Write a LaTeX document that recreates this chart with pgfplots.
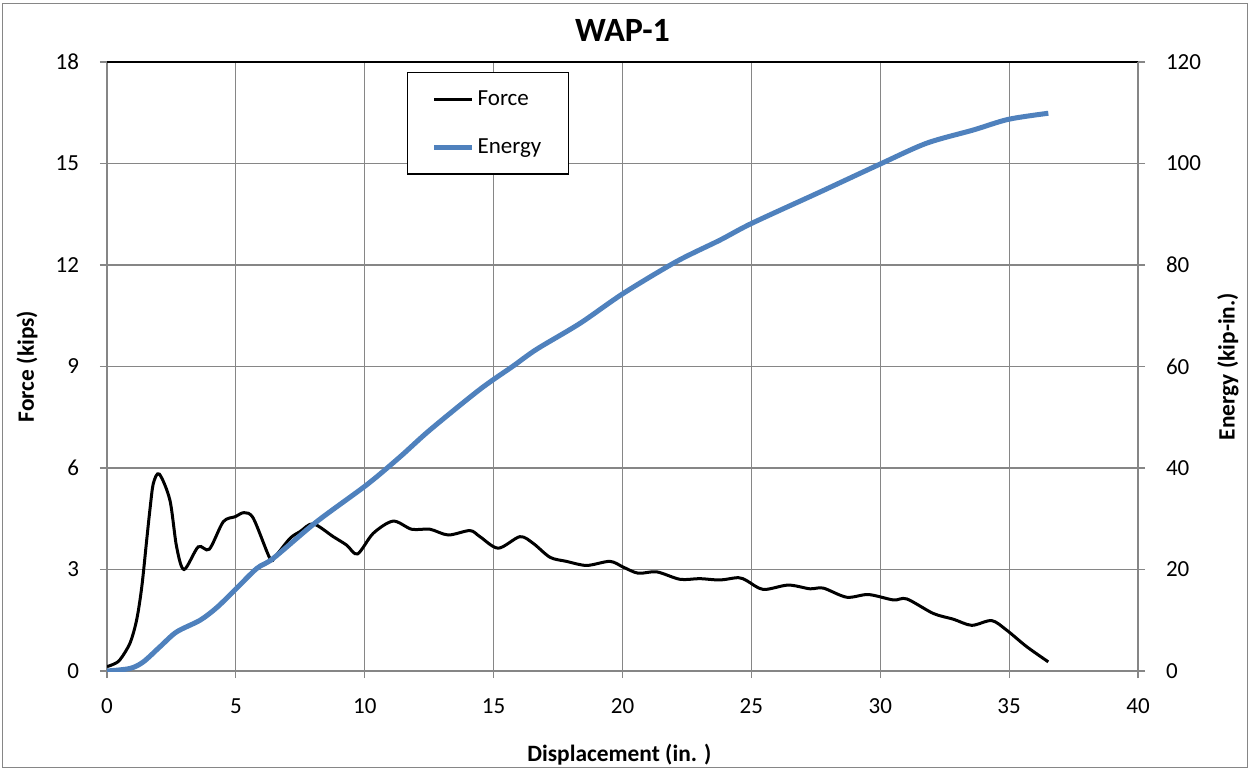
\documentclass[border=0pt]{standalone}
\usepackage{fontspec}
\setmainfont{Carlito}
\usepackage{pgfplots}
\pgfplotsset{compat=1.18}

\definecolor{gridgray}{RGB}{134,134,134}
\definecolor{energyblue}{RGB}{79,129,189}

\newcommand\tickfont{\fontsize{11.5}{13}\selectfont}
\newcommand\labelfont{\bfseries\fontsize{11.7}{13}\selectfont}

\pgfplotsset{
  wapbase/.style={
    scale only axis,
    width=515.5pt, height=304.5pt,
    xmin=0, xmax=40,
    /pgf/number format/assume math mode=true,
    tick label style={font=\tickfont},
    tick align=outside,
    major tick length=3.5pt,
    every tick/.style={gridgray, line width=0.6pt},
    axis line style={gridgray, line width=0.6pt},
  },
}

\begin{document}
\begin{tikzpicture}
% force (left axis)
\begin{axis}[
  wapbase,
  name=ax,
  ymin=0, ymax=18,
  xtick={0,5,...,40},
  ytick={0,3,...,18},
  xtick pos=bottom,
  ytick pos=left,
  grid=major,
  major grid style={gridgray, line width=0.6pt},
  xticklabel style={yshift=-7pt},
  yticklabel style={xshift=-7pt},
  title={WAP-1},
  title style={font=\bfseries\fontsize{17}{20}\selectfont, at={(axis description cs:0.5,1.0328)}, anchor=center},
  xlabel={Displacement (in. )},
  xlabel style={font=\labelfont, at={(axis description cs:0.497,-0.138)}, anchor=center},
  ylabel={Force (kips)},
  ylabel style={font=\labelfont, at={(axis description cs:-0.0776,0.5)}, anchor=center},
]
\addplot[black, line width=1.5pt, smooth] coordinates {
  (0,0.13) (0.25,0.2) (0.5,0.33) (0.89,0.82) (1.15,1.51) (1.35,2.49) (1.54,3.87)
  (1.67,4.8) (1.8,5.55) (2.03,5.82)
  (2.44,5.05) (2.7,3.67) (2.99,3.0) (3.54,3.67) (3.97,3.6) (4.51,4.41)
  (4.97,4.56) (5.32,4.68) (5.68,4.51) (6.32,3.33) (6.52,3.38) (7.1,3.92)
  (7.49,4.12) (8.0,4.35) (8.78,3.97) (9.3,3.72) (9.72,3.46) (10.33,4.07)
  (11.1,4.43) (11.82,4.19) (12.53,4.19) (13.24,4.02) (14.08,4.15) (14.47,3.97)
  (15.18,3.63) (16.02,3.97) (16.54,3.77) (17.19,3.36) (17.83,3.24) (18.61,3.12)
  (19.51,3.24) (20.03,3.07) (20.61,2.89) (21.33,2.93) (22.23,2.71) (23.0,2.73)
  (23.78,2.69) (24.49,2.76) (24.82,2.67) (25.46,2.41) (26.43,2.54) (27.27,2.43)
  (27.79,2.45) (28.7,2.18) (29.54,2.26) (30.51,2.1) (31.03,2.13) (32.06,1.7)
  (32.84,1.53) (33.55,1.35) (34.32,1.49) (34.9,1.21) (35.68,0.72) (36.52,0.27)
};
\draw[black, line width=0.7pt] (rel axis cs:0,1) -- (rel axis cs:1,1);
\end{axis}

% energy (right axis)
\begin{axis}[
  wapbase,
  ymin=0, ymax=120,
  ytick={0,20,...,120},
  axis x line=none,
  axis y line*=right,
  yticklabel style={xshift=7pt},
  ylabel={Energy (kip-in.)},
  ylabel style={font=\labelfont, at={(axis description cs:1.0873,0.5)}, anchor=center},
  legend style={
    at={(0.291,0.9836)}, anchor=north west,
    draw=black, line width=0.6pt, fill=white,
    font=\fontsize{11.5}{13}\selectfont,
    row sep=11pt, inner xsep=12pt, inner ysep=7pt,
    nodes={inner xsep=1.5pt},
  },
  legend cell align=left,
  legend image code/.code={\draw[#1] (0pt,0pt) -- (19pt,0pt);},
]
\addlegendimage{black, line width=1.5pt}
\addlegendentry{Force}
\addplot[energyblue, line width=2.5pt, smooth] coordinates {
  (0,0) (0.89,0.5) (1.41,1.8) (2.06,4.8) (2.7,7.7) (3.61,10.0) (4.26,12.5)
  (4.97,16.0) (5.81,20.2) (6.45,22.2) (8.13,29.4) (10.08,36.7) (11.37,42.2)
  (12.53,47.5) (14.47,55.5) (15.76,60.1) (16.67,63.4) (18.35,68.5) (20.03,74.4)
  (22.1,80.7) (23.78,84.9) (25.01,88.2) (27.67,94.4) (30.0,99.9) (31.8,104.0)
  (33.61,106.6) (34.97,108.7) (36.52,109.9)
};
\addlegendentry{Energy}
\end{axis}

\pgfresetboundingbox
\path[use as bounding box] ([xshift=-53.5pt,yshift=-49.5pt]ax.south west) rectangle ([xshift=56pt,yshift=31pt]ax.north east);
\draw[gridgray, line width=0.5pt] ([xshift=-52.3pt,yshift=-48.3pt]ax.south west) rectangle ([xshift=54.8pt,yshift=29pt]ax.north east);
\end{tikzpicture}
\end{document}
